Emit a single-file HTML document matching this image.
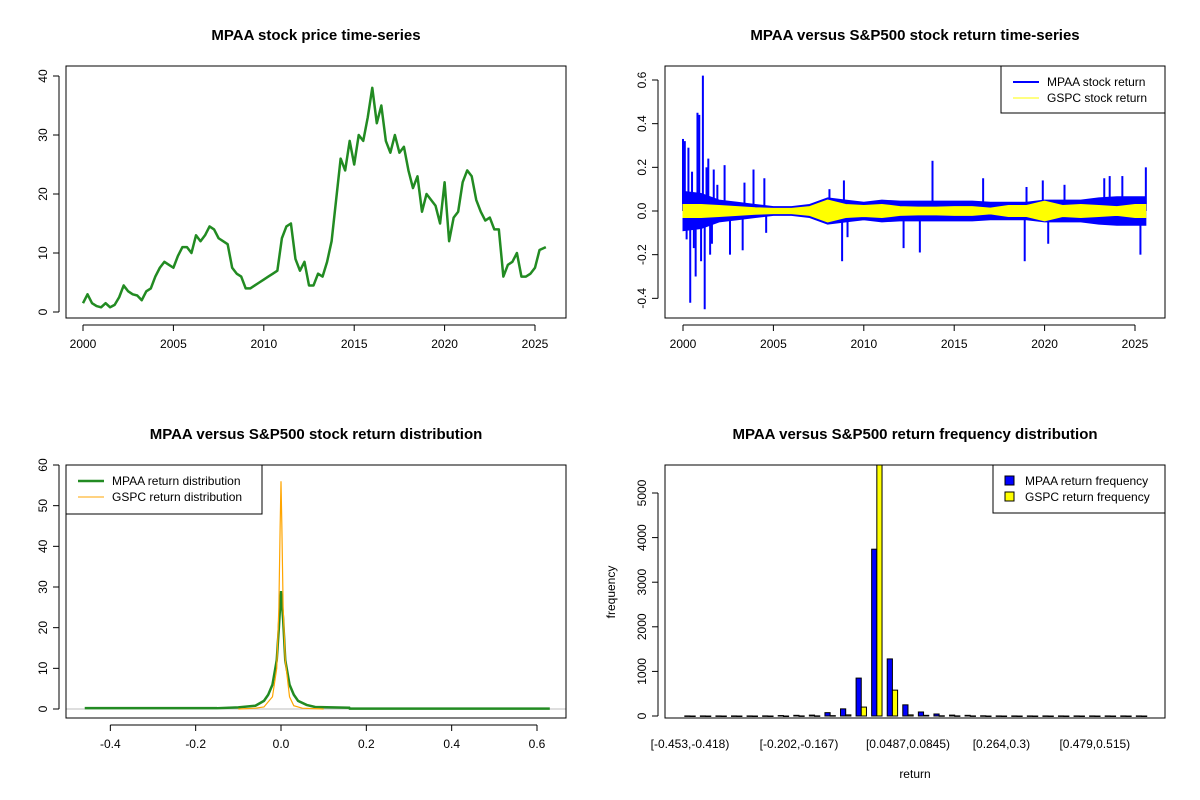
<!DOCTYPE html>
<html><head><meta charset="utf-8"><style>
html,body{margin:0;padding:0;background:#fff;}
svg{display:block;font-family:"Liberation Sans",Arial,sans-serif;}
</style></head><body>
<svg id="c" width="1200" height="800" viewBox="0 0 1200 800"></svg>
<script>
// ---- Panel 1: price ----
const priceYears = [];
for (let i = 0; i < 103; i++) priceYears.push(2000 + i * 0.25);
priceYears[102] = 2025.6;
const priceValues = [1.5,3,1.5,1,0.8,1.5,0.8,1.2,2.5,4.5,3.5,3,2.8,2,3.5,4,6,7.5,8.5,8,7.5,9.5,11,11,10,13,12,13,14.5,14,12.5,12,11.5,7.5,6.5,6,4,4,4.5,5,5.5,6,6.5,7,12.5,14.5,15,9,7,8.5,4.5,4.5,6.5,6,8.5,12,19,26,24,29,25,30,29,33,38,32,35,29,27,30,27,28,24,21,23,17,20,19,18,15,22,12,16,17,22,24,23,19,17,15.5,16,14,14,6,8,8.5,10,6,6,6.5,7.5,10.5,11,14.5];
const priceYTicks = [0,10,20,30,40];
const yearTicks = [2000,2005,2010,2015,2020,2025];
// ---- Panel 2: returns ----
const bandYears = [2000,2001,2002,2003,2004,2005,2006,2007,2008,2009,2010,2011,2012,2013,2014,2015,2016,2017,2018,2019,2020,2021,2022,2023,2024,2025,2025.6];
const mpaaBand = [0.09,0.08,0.05,0.04,0.03,0.02,0.02,0.03,0.06,0.05,0.04,0.05,0.045,0.045,0.045,0.045,0.045,0.04,0.04,0.04,0.05,0.05,0.05,0.06,0.065,0.065,0.065];
const gspcBand = [0.03,0.03,0.025,0.02,0.015,0.012,0.012,0.02,0.05,0.03,0.025,0.03,0.02,0.018,0.018,0.02,0.02,0.013,0.025,0.025,0.045,0.025,0.03,0.025,0.02,0.03,0.03];
const spikeYears = [2000.0,2000.1,2000.2,2000.3,2000.4,2000.5,2000.6,2000.7,2000.8,2000.9,2001.0,2001.1,2001.2,2001.3,2001.4,2001.5,2001.6,2001.7,2001.9,2002.3,2002.6,2003.3,2003.4,2003.9,2004.5,2004.6,2008.1,2008.8,2008.9,2009.1,2012.2,2013.1,2013.8,2016.6,2018.9,2019.0,2019.9,2020.2,2021.1,2023.3,2023.6,2024.3,2025.3,2025.6];
const spikeValues = [0.33,0.32,-0.13,0.29,-0.42,0.18,-0.17,-0.3,0.45,0.44,-0.23,0.62,-0.45,0.2,0.24,-0.2,-0.15,0.19,0.12,0.21,-0.2,-0.18,0.13,0.19,0.15,-0.1,0.1,-0.23,0.14,-0.12,-0.17,-0.19,0.23,0.15,-0.23,0.11,0.14,-0.15,0.12,0.15,0.16,0.16,-0.2,0.2];
const retYTicks = [-0.4,-0.2,0,0.2,0.4,0.6];
// ---- Panel 3: densities ----
const mpaaDensX = [-0.46,-0.15,-0.1,-0.06,-0.04,-0.03,-0.02,-0.01,-0.005,0,0.005,0.01,0.02,0.03,0.04,0.06,0.08,0.16,0.161,0.63];
const mpaaDensY = [0.2,0.2,0.4,0.8,2,3.5,6,12,20,29,22,12,6,3.5,2,1,0.5,0.3,0.1,0.1];
const gspcDensX = [-0.1,-0.06,-0.04,-0.02,-0.01,-0.005,-0.002,0,0.002,0.005,0.01,0.02,0.03,0.05,0.1];
const gspcDensY = [0,0.2,0.5,3,10,25,45,56,45,25,12,3,0.8,0.2,0];
const densXTicks = [-0.4,-0.2,0,0.2,0.4,0.6];
const densYTicks = [0,10,20,30,40,50,60];
// ---- Panel 4: histogram ----
const binLabels = ["[-0.453,-0.418)","[-0.202,-0.167)","[0.0487,0.0845)","[0.264,0.3)","[0.479,0.515)"];
const binLabelIdx = [0,7,14,20,26];
const mpaaFreq = [2,2,2,2,2,3,10,15,20,75,160,850,3740,1280,250,90,45,20,15,5,2,2,2,2,2,2,2,2,2,2];
const gspcFreq = [0,0,0,0,0,0,0,2,3,8,25,200,5650,580,25,15,5,3,2,0,0,0,0,0,0,0,0,0,0,0];
const freqTicks = [0,1000,2000,3000,4000,5000];

const NS = "http://www.w3.org/2000/svg";
const svg = document.getElementById('c');
function el(tag, attrs, parent) {
  const e = document.createElementNS(NS, tag);
  for (const k in attrs) e.setAttribute(k, attrs[k]);
  (parent || svg).appendChild(e);
  return e;
}
function txt(s, x, y, opts, parent) {
  const t = el('text', Object.assign({x: x, y: y, 'font-size': 12, fill: '#000', 'text-anchor': 'middle'}, opts || {}), parent);
  t.textContent = s;
  return t;
}
function lin(d0, d1, r0, r1) { return v => r0 + (v - d0) * (r1 - r0) / (d1 - d0); }

function frame(g, L, T, R, B, title, tx) {
  const b = el('rect', {x: L, y: T, width: R - L, height: B - T, fill: 'none', stroke: '#000', 'stroke-width': 1}, g);
  
  
  const t = txt(title, tx, 40, {'font-size': 15, 'font-weight': 'bold'}, g);
  t.setAttribute('y', T - 26);
  
  
}
function xAxis(g, ticks, sx, B, fmt) {
  const a = el('g', {}, g);
  
  
  el('line', {x1: sx(ticks[0]), x2: sx(ticks[ticks.length - 1]), y1: B + 7, y2: B + 7, stroke: '#000'}, a);
  ticks.forEach(v => {
    el('line', {x1: sx(v), x2: sx(v), y1: B + 7, y2: B + 13, stroke: '#000'}, a);
    const t = txt(fmt(v), sx(v), B + 30, {}, a);
    
    
  });
}
function yAxis(g, ticks, sy, L, fmt) {
  const a = el('g', {}, g);
  
  
  el('line', {x1: L - 7, x2: L - 7, y1: sy(ticks[0]), y2: sy(ticks[ticks.length - 1]), stroke: '#000'}, a);
  ticks.forEach(v => {
    el('line', {x1: L - 13, x2: L - 7, y1: sy(v), y2: sy(v), stroke: '#000'}, a);
    const x = L - 19, y = sy(v);
    const t = txt(fmt(v), x, y, {transform: 'rotate(-90 ' + x + ' ' + y + ')'}, a);
    
    
  });
}
function legend(g, x, y, w, h, items) {
  const lg = el('g', {}, g);
  
  
  el('rect', {x: x, y: y, width: w, height: h, fill: '#fff', stroke: '#000'}, lg);
  items.forEach((it, i) => {
    const cy = y + 16 + i * 16;
    if (it.box) el('rect', {x: x + 12, y: cy - 5, width: 9, height: 9, fill: it.color, stroke: '#000'}, lg);
    else el('line', {x1: x + 12, x2: x + 38, y1: cy, y2: cy, stroke: it.color, 'stroke-width': it.w}, lg);
    const t = txt(it.label, x + (it.box ? 32 : 46), cy + 4, {'text-anchor': 'start'}, lg);
    
    
  });
}
const fmt1 = v => v.toFixed(1);

// Panel 1
(function () {
  const g = el('g', {});
  
  
  const L = 66, R = 566, T = 66, B = 318;
  const sx = lin(2000, 2025, 83, 535), sy = lin(0, 40, 312, 76);
  const p = el('polyline', {points: priceYears.map((y, i) => sx(y) + ',' + sy(priceValues[i])).join(' '), fill: 'none', stroke: '#228B22', 'stroke-width': 2.5, 'stroke-linejoin': 'round'}, g);
  
  
  frame(g, L, T, R, B, 'MPAA stock price time-series', 316);
  xAxis(g, yearTicks, sx, B, String);
  yAxis(g, priceYTicks, sy, L, String);
})();

// Panel 2
(function () {
  const g = el('g', {});
  
  
  const L = 665, R = 1165, T = 66, B = 318;
  const sx = lin(2000, 2025, 683, 1135), sy = lin(0, 0.6, 211, 80);
  function band(vals, color, name) {
    const up = bandYears.map((y, i) => sx(y) + ',' + sy(vals[i]));
    const dn = bandYears.map((y, i) => sx(y) + ',' + sy(-vals[i])).reverse();
    const b = el('polygon', {points: up.concat(dn).join(' '), fill: color, stroke: color, 'stroke-width': 1}, g);
    
    
  }
  band(mpaaBand, '#0000FF', 'mpaa-return-band');
  spikeYears.forEach((y, i) => {
    const s = el('line', {x1: sx(y), x2: sx(y), y1: sy(0), y2: sy(spikeValues[i]), stroke: '#0000FF', 'stroke-width': 2}, g);
    
    
  });
  band(gspcBand, '#FFFF00', 'gspc-return-band');
  frame(g, L, T, R, B, 'MPAA versus S&P500 stock return time-series', 915);
  xAxis(g, yearTicks, sx, B, String);
  yAxis(g, retYTicks, sy, L, fmt1);
  legend(g, 1001, 66, 164, 47, [{label: 'MPAA stock return', color: '#0000FF', w: 2}, {label: 'GSPC stock return', color: '#FFFF00', w: 1}]);
})();

// Panel 3
(function () {
  const g = el('g', {});
  
  
  const L = 66, R = 566, T = 465, B = 718;
  const sx = lin(0, 0.6, 281, 537), sy = lin(0, 60, 709, 465);
  const z = el('line', {x1: L, x2: R, y1: sy(0), y2: sy(0), stroke: '#BEBEBE'}, g);
  
  
  const m = el('polyline', {points: mpaaDensX.map((x, i) => sx(x) + ',' + sy(mpaaDensY[i])).join(' '), fill: 'none', stroke: '#228B22', 'stroke-width': 2.5}, g);
  
  
  const s = el('polyline', {points: gspcDensX.map((x, i) => sx(x) + ',' + sy(gspcDensY[i])).join(' '), fill: 'none', stroke: '#FFA500', 'stroke-width': 1.2}, g);
  
  
  frame(g, L, T, R, B, 'MPAA versus S&P500 stock return distribution', 316);
  xAxis(g, densXTicks, sx, B, fmt1);
  yAxis(g, densYTicks, sy, L, String);
  legend(g, 66, 465, 196, 49, [{label: 'MPAA return distribution', color: '#228B22', w: 2.5}, {label: 'GSPC return distribution', color: '#FFA500', w: 1}]);
})();

// Panel 4
(function () {
  const g = el('g', {});
  
  
  const L = 665, R = 1165, T = 465, B = 718;
  const step = 15.57, c0 = 690, bw = step / 3;
  const bx = i => c0 + i * step;
  const sy = lin(0, 5000, 716, 493);
  const clip = el('clipPath', {id: 'hc'}, g);
  el('rect', {x: L, y: T, width: R - L, height: B - T}, clip);
  const bars = el('g', {'clip-path': 'url(#hc)'}, g);
  mpaaFreq.forEach((v, i) => {
    const r = el('rect', {x: bx(i) - bw, y: sy(v), width: bw, height: Math.max(0.5, sy(0) - sy(v)), fill: '#0000FF', stroke: '#000', 'stroke-width': 1}, bars);
    
    
  });
  gspcFreq.forEach((v, i) => {
    const r = el('rect', {x: bx(i), y: sy(v), width: bw, height: Math.max(0.5, sy(0) - sy(v)), fill: '#FFFF00', stroke: '#000', 'stroke-width': 1}, bars);
    
    
  });
  frame(g, L, T, R, B, 'MPAA versus S&P500 return frequency distribution', 915);
  yAxis(g, freqTicks, sy, L, String);
  binLabelIdx.forEach((bi, k) => {
    const t = txt(binLabels[k], bx(bi), 748, {}, g);
    
    
  });
  const xl = txt('return', 915, 778, {}, g);
  
  
  const yl = txt('frequency', 615, 592, {transform: 'rotate(-90 615 592)'}, g);
  
  
  legend(g, 993, 465, 172, 48, [{label: 'MPAA return frequency', color: '#0000FF', box: true}, {label: 'GSPC return frequency', color: '#FFFF00', box: true}]);
})();
</script>
</body></html>
